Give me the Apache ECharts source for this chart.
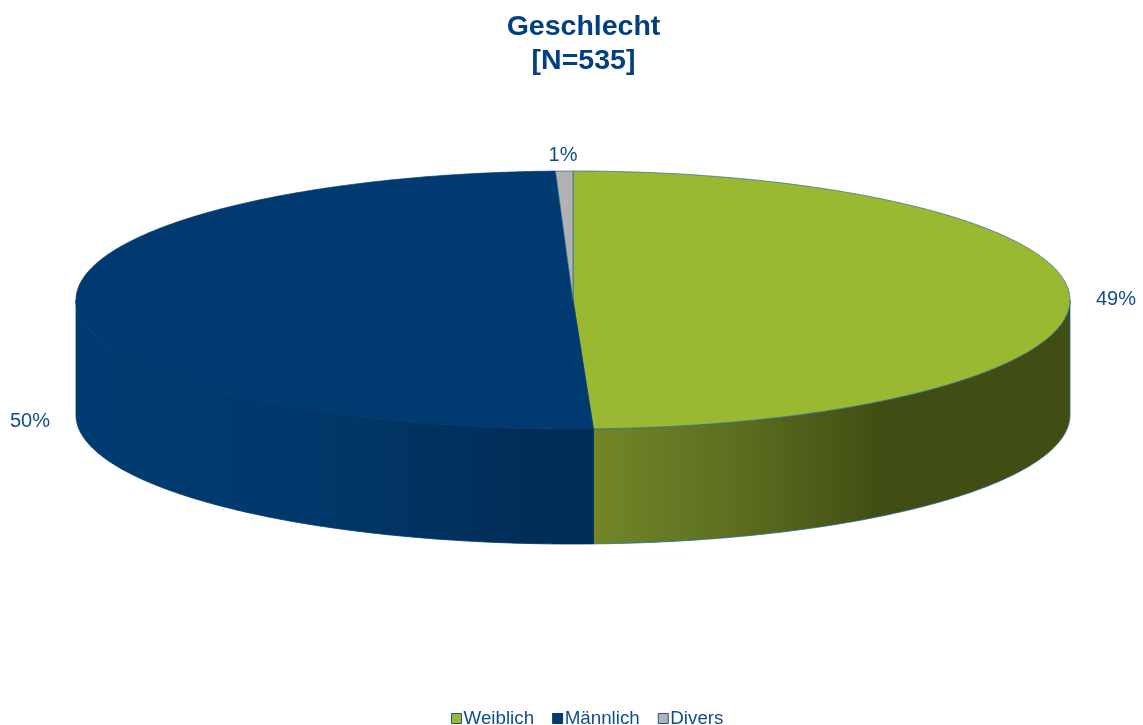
<!DOCTYPE html>
<html>
<head>
<meta charset="utf-8">
<style>html,body{margin:0;padding:0;background:#fff}#c{width:1143px;height:725px}</style>
<script src="https://cdn.jsdelivr.net/npm/echarts@6/dist/echarts.min.js"></script>
</head>
<body>
<div id="c"></div>
<script>
const categories = ['Weiblich', 'Männlich', 'Divers'];
const counts = [264, 268, 3];
const percentLabels = ['49%', '50%', '1%'];
const topColors = ['#9bb833', '#003a70', '#b2b2b2'];
const legendBorders = ['#1d5a8f', '#003a70', '#1d5a8f'];

const total = counts.reduce((a, b) => a + b, 0);
const disc = { cx: 573, cy: 300, rx: 497, ry: 129, depth: 115 };
const labelAnchors = [[1116, 299], [30, 421], [563, 155]];
const edge = '#2a6a94';
const textColor = '#0f4f8f';

const chart = echarts.init(document.getElementById('c'), null, { renderer: 'canvas' });

function sideFill(i) {
  const left = disc.cx - disc.rx, right = disc.cx + disc.rx, w = right - left;
  const at = x => (x - left) / w;
  if (i === 0) {
    return new echarts.graphic.LinearGradient(594, 0, 1070, 0, [
      { offset: 0, color: '#728628' },
      { offset: 0.3, color: '#5c6e20' },
      { offset: 0.6, color: '#414e13' },
      { offset: 1, color: '#404d13' }
    ], true);
  }
  return new echarts.graphic.LinearGradient(left, 0, 594, 0, [
    { offset: 0, color: '#003c72' },
    { offset: at(300) / at(594), color: '#00386b' },
    { offset: at(400) / at(594), color: '#013463' },
    { offset: at(520) / at(594), color: '#002e59' },
    { offset: 1, color: '#002c55' }
  ], true);
}

function rim(deg, dy) {
  const t = deg * Math.PI / 180;
  return [disc.cx + disc.rx * Math.sin(t), disc.cy - disc.ry * Math.cos(t) + (dy || 0)];
}

function renderSlice(params, api) {
  const i = params.seriesIndex;
  let before = 0;
  for (let k = 0; k < i; k++) before += counts[k];
  const a0 = before / total * 360;
  const a1 = (before + api.value(0)) / total * 360;
  const children = [];

  const s0 = Math.max(a0, 90), s1 = Math.min(a1, 270);
  if (s1 > s0) {
    const upper = [], lower = [];
    for (let d = s0; d < s1; d += 0.5) { upper.push(rim(d)); lower.push(rim(d, disc.depth)); }
    upper.push(rim(s1)); lower.push(rim(s1, disc.depth));
    children.push({
      type: 'polygon',
      shape: { points: upper.concat(lower.reverse()) },
      style: { fill: sideFill(i), stroke: i === 0 ? edge : sideFill(i), lineWidth: 0.8 }
    });
  }

  const top = [[disc.cx, disc.cy]];
  for (let d = a0; d < a1; d += 0.5) top.push(rim(d));
  top.push(rim(a1));
  children.push({
    type: 'polygon',
    shape: { points: top },
    style: { fill: topColors[i], stroke: i === 1 ? topColors[1] : edge, lineWidth: 0.7 }
  });

  children.push({
    type: 'text',
    x: labelAnchors[i][0],
    y: labelAnchors[i][1],
    style: {
      text: percentLabels[i],
      fill: textColor,
      font: '20px "Liberation Sans", Arial, sans-serif',
      align: 'center',
      verticalAlign: 'middle'
    }
  });
  return { type: 'group', children };
}

chart.setOption({
  animation: false,
  backgroundColor: '#ffffff',
  title: {
    text: 'Geschlecht\n[N=535]',
    left: 578.5,
    top: 5,
    textAlign: 'center',
    textStyle: {
      color: '#004080',
      fontFamily: '"Liberation Sans", Arial, sans-serif',
      fontWeight: 'bold',
      fontSize: 28.5,
      lineHeight: 34
    }
  },
  legend: {
    left: 446,
    top: 704,
    itemWidth: 10,
    itemHeight: 10,
    itemGap: 18,
    icon: 'rect',
    selectedMode: false,
    textStyle: {
      color: textColor,
      fontFamily: '"Liberation Sans", Arial, sans-serif',
      fontSize: 18.8,
      padding: [0, 0, 0, -3]
    },
    data: categories.map((name, i) => ({
      name,
      itemStyle: { color: topColors[i], borderColor: legendBorders[i], borderWidth: 1 }
    }))
  },
  series: categories.map((name, i) => ({
    type: 'custom',
    name,
    coordinateSystem: 'none',
    silent: true,
    itemStyle: { color: topColors[i] },
    renderItem: renderSlice,
    data: [[counts[i]]]
  }))
});
</script>
</body>
</html>
